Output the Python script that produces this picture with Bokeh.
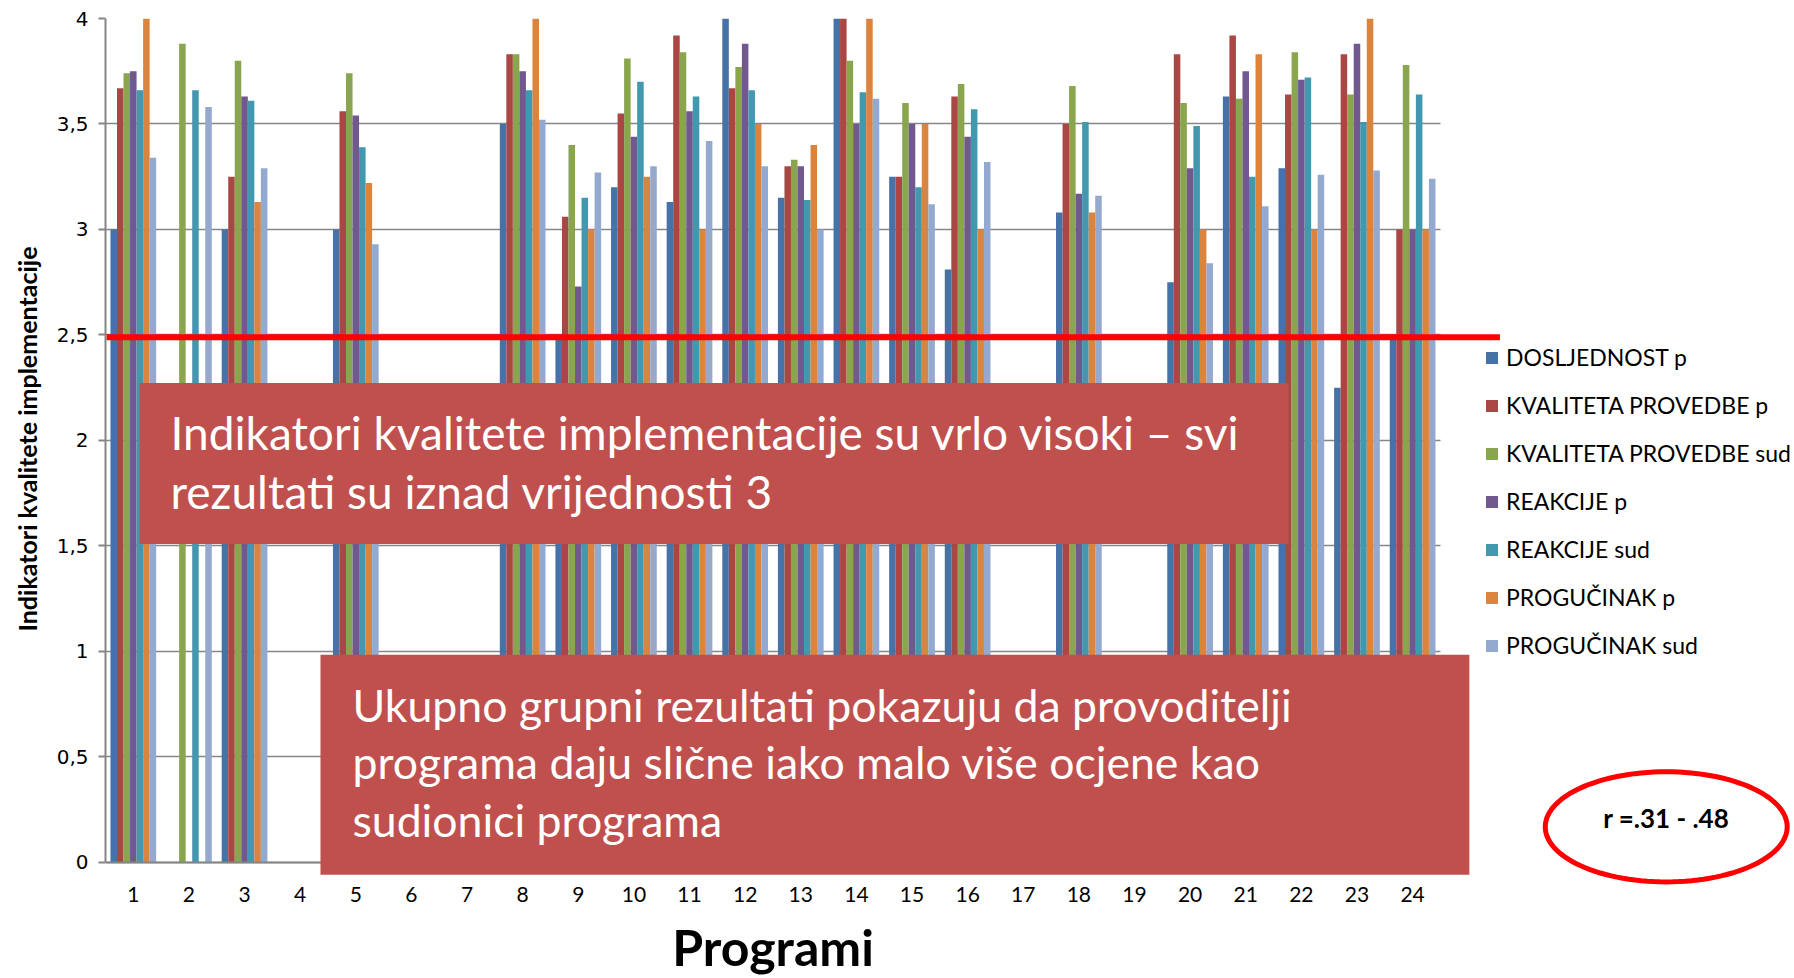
import numpy as np
from bokeh.plotting import figure
from bokeh.models import (ColumnDataSource, Range1d, FixedTicker, Legend, LegendItem,
                          BoxAnnotation, Label, PolyAnnotation, Title)
from bokeh.transform import dodge
from bokeh.embed import file_html
from bokeh.resources import INLINE

nan = float("nan")

programs = list(range(1, 25))
series_names = ["DOSLJEDNOST p", "KVALITETA PROVEDBE p", "KVALITETA PROVEDBE sud",
                "REAKCIJE p", "REAKCIJE sud", "PROGUČINAK p", "PROGUČINAK sud"]
colors = ["#4572A7", "#AA4643", "#89A54E", "#71588F", "#4198AF", "#DB843D", "#93A9CF"]

dosljednost_p = [3.0, nan, 3.0, nan, 3.0, nan, nan, 3.5, 2.5, 3.2, 3.13, 4.0,
                 3.15, 4.0, 3.25, 2.81, nan, 3.08, nan, 2.75, 3.63, 3.29, 2.25, 2.5]
kvaliteta_p = [3.67, nan, 3.25, nan, 3.56, nan, nan, 3.83, 3.06, 3.55, 3.92, 3.67,
               3.30, 4.0, 3.25, 3.63, nan, 3.5, nan, 3.83, 3.92, 3.64, 3.83, 3.0]
kvaliteta_sud = [3.74, 3.88, 3.80, nan, 3.74, nan, nan, 3.83, 3.40, 3.81, 3.84, 3.77,
                 3.33, 3.80, 3.60, 3.69, nan, 3.68, nan, 3.60, 3.62, 3.84, 3.64, 3.78]
reakcije_p = [3.75, nan, 3.63, nan, 3.54, nan, nan, 3.75, 2.73, 3.44, 3.56, 3.88,
              3.30, 3.50, 3.50, 3.44, nan, 3.17, nan, 3.29, 3.75, 3.71, 3.88, 3.0]
reakcije_sud = [3.66, 3.66, 3.61, nan, 3.39, nan, nan, 3.66, 3.15, 3.70, 3.63, 3.66,
                3.14, 3.65, 3.20, 3.57, nan, 3.51, nan, 3.49, 3.25, 3.72, 3.51, 3.64]
progucinak_p = [4.0, nan, 3.13, nan, 3.22, nan, nan, 4.0, 3.0, 3.25, 3.0, 3.5,
                3.4, 4.0, 3.5, 3.0, nan, 3.08, nan, 3.0, 3.83, 3.0, 4.0, 3.0]
progucinak_sud = [3.34, 3.58, 3.29, nan, 2.93, nan, nan, 3.52, 3.27, 3.30, 3.42, 3.30,
                  3.0, 3.62, 3.12, 3.32, nan, 3.16, nan, 2.84, 3.11, 3.26, 3.28, 3.24]

y_ticks = [0, 0.5, 1, 1.5, 2, 2.5, 3, 3.5, 4]
y_tick_labels = ["0", "0,5", "1", "1,5", "2", "2,5", "3", "3,5", "4"]
y_title = "Indikatori kvalitete implementacije"
x_title = "Programi"

threshold = 2.5
box1_lines = ["Indikatori  kvalitete  implementacije su vrlo visoki  – svi",
              "rezultati su iznad vrijednosti 3"]
box2_lines = ["Ukupno grupni rezultati pokazuju da provoditelji",
              "programa daju slične iako malo više ocjene  kao",
              "sudionici programa"]
corr_text = "r =.31 - .48"

all_series = [dosljednost_p, kvaliteta_p, kvaliteta_sud, reakcije_p,
              reakcije_sud, progucinak_p, progucinak_sud]

data = {"prog": programs}
for i, s in enumerate(all_series):
    data[f"s{i}"] = s
source = ColumnDataSource(data)

# the frame covers the chart plus the free area to the right / below it,
# axes are bounded to the data region
p = figure(width=1792, height=976,
           min_border_left=105, min_border_top=18, min_border_right=0, min_border_bottom=0,
           x_range=Range1d(0.5, 30.83), y_range=Range1d(-0.5403, 4),
           output_backend="svg", toolbar_location=None,
           background_fill_color="white", border_fill_color="white")
p.outline_line_color = None

bw = 0.1174
items = []
for i, name in enumerate(series_names):
    r = p.vbar(x=dodge("prog", (i - 3) * bw, range=p.x_range), top=f"s{i}", bottom=0,
               width=bw, source=source, fill_color=colors[i], line_color=None)
    items.append(LegendItem(label=name, renderers=[r]))

# x axis
p.xaxis.fixed_location = 0
p.xaxis.bounds = (0.5, 24.5)
p.xaxis.ticker = FixedTicker(ticks=programs)
p.xaxis.major_tick_out = 0
p.xaxis.major_tick_in = 0
p.xaxis.minor_tick_out = 0
p.xaxis.minor_tick_in = 0
p.xaxis.axis_line_color = "#868686"
p.xaxis.axis_line_width = 2
p.xaxis.major_label_text_font = "Lato"
p.xaxis.major_label_text_font_size = "21px"
p.xaxis.major_label_text_color = "black"
p.xaxis.major_label_standoff = 25
p.xaxis.axis_label = x_title
p.xaxis.axis_label_text_font = "Lato"
p.xaxis.axis_label_text_font_style = "bold"
p.xaxis.axis_label_text_font_size = "50px"
p.xaxis.axis_label_text_color = "black"
p.xaxis.axis_label_standoff = 11

# y axis
p.yaxis.bounds = (0, 4)
p.yaxis.ticker = FixedTicker(ticks=y_ticks)
p.yaxis.major_label_overrides = {t: l for t, l in zip(y_ticks, y_tick_labels)}
p.yaxis.major_tick_out = 7
p.yaxis.major_tick_in = 0
p.yaxis.minor_tick_out = 0
p.yaxis.minor_tick_in = 0
p.yaxis.major_tick_line_color = "#868686"
p.yaxis.major_tick_line_width = 2
p.yaxis.axis_line_color = "#868686"
p.yaxis.axis_line_width = 2
p.yaxis.major_label_text_font = "DejaVu Sans"
p.yaxis.major_label_text_font_size = "20px"
p.yaxis.major_label_text_color = "black"
p.yaxis.major_label_standoff = 10

# y-axis title, aligned to the 0..4 part of the axis
p.add_layout(Title(text=y_title, align="right", vertical_align="top", offset=228,
                   standoff=20, text_font="Lato", text_font_style="bold",
                   text_font_size="25px", text_color="black"), "left")

p.xgrid.grid_line_color = None
yg = p.ygrid[0]
yg.grid_line_color = "#868686"
yg.grid_line_width = 1.5
yg.bounds = (0, 4)
if "cross_bounds" in yg.properties():
    yg.cross_bounds = (0.5, 24.5)

# red threshold line
p.add_layout(BoxAnnotation(left=0.52, right=25.57, bottom=threshold - 0.025,
                           top=threshold + 0.003, fill_color="#FF0000", fill_alpha=1,
                           line_color=None))

# text boxes
dy = 0.075
p.add_layout(BoxAnnotation(left=1.111, right=21.77, bottom=1.510, top=2.273,
                           fill_color="#C0504D", fill_alpha=1, line_color=None))
for txt, yb in zip(box1_lines, [1.961, 1.681]):
    p.add_layout(Label(x=1.669, y=yb + dy, text=txt, text_font="Lato", text_font_size="46px",
                       text_color="white", text_baseline="alphabetic"))

p.add_layout(BoxAnnotation(left=4.365, right=25.02, bottom=-0.058, top=0.984,
                           fill_color="#C0504D", fill_alpha=1, line_color=None))
for txt, yb in zip(box2_lines, [0.672, 0.402, 0.127]):
    p.add_layout(Label(x=4.94, y=yb + dy, text=txt, text_font="Lato", text_font_size="44.6px",
                       text_color="white", text_baseline="alphabetic"))

# ellipse with correlation text
cx, cy, rx, ry = 28.56, 0.169, 2.175, 0.261
t = np.linspace(0, 2 * np.pi, 120, endpoint=False)
p.add_layout(PolyAnnotation(xs=list(cx + rx * np.cos(t)), ys=list(cy + ry * np.sin(t)),
                            fill_color=None, fill_alpha=0, line_color="#FF0000",
                            line_alpha=1, line_width=5))
p.add_layout(Label(x=cx, y=cy + 0.04, text=corr_text, text_font="Lato", text_font_style="bold",
                   text_font_size="26px", text_align="center", text_baseline="middle",
                   text_color="black"))

legend = Legend(items=items, location=(1379, 317), orientation="vertical",
                label_text_font="Lato", label_text_font_size="23px", label_text_color="black",
                glyph_width=15, glyph_height=15, label_standoff=7, spacing=20,
                padding=0, margin=0, border_line_color=None, background_fill_alpha=0)
p.add_layout(legend)

open("out.html", "w").write(file_html(p, INLINE))
